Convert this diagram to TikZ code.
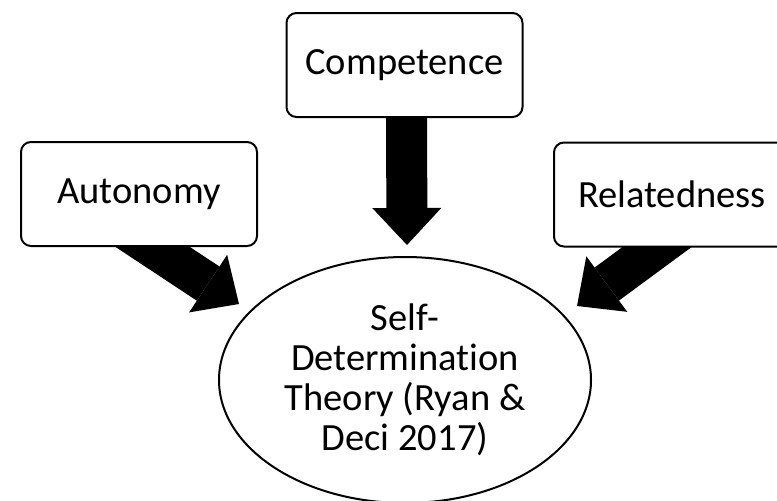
\documentclass[tikz,border=0pt]{standalone}
\usepackage{fontspec}
\setmainfont[Ligatures=NoCommon]{Carlito}
\usetikzlibrary{shapes.geometric,arrows.meta,calc,backgrounds}

\begin{document}
\begin{tikzpicture}[x=1pt, y=-1pt, font=\fontsize{38.5}{40}\selectfont, box/.style={draw, line width=2pt, rounded corners=10pt, fill=white, align=center, minimum width=236pt, minimum height=104pt}, blockarr/.style={line width=41pt, -{Triangle[width=69pt, length=37pt, line width=0pt]}}]
\clip (0,0) rectangle (777,501);
\node[box] (comp) at (404.5,65) {Competence};
\node[box] (aut) at (139,194) {Autonomy};
\node[box] (rel) at (672,194.5) {Relatedness};
\node[draw, ellipse, line width=2pt, align=center, minimum width=372pt, minimum height=246pt] (sdt) at (405,380) {Self-\\Determination\\Theory (Ryan \&\\Deci 2017)};
\coordinate (autend) at (239,304);
\coordinate (compend) at (407,245);
\coordinate (relend) at (577,306);
\begin{scope}[on background layer]
\draw[blockarr] ($(aut.south)+(-18,-21)$) -- (autend);
\draw[blockarr] ($(comp.south)+(2,-5)$) -- (compend);
\draw[blockarr] ($(rel.south)+(17,-24)$) -- (relend);
\end{scope}
\end{tikzpicture}
\end{document}
